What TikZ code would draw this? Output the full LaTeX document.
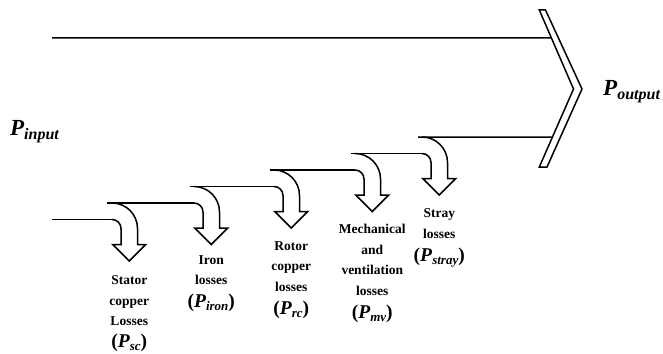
\documentclass[tikz,border=0pt]{standalone}
\usepackage{fontspec}
\setmainfont{Liberation Serif}
\usetikzlibrary{calc}
\newcommand{\Plbl}[1]{{\fontsize{19.5}{20.5}\selectfont(\textit{P}\raisebox{-3.4pt}{\fontsize{13}{13}\selectfont\itshape #1})}}
\newcommand{\Pbig}[1]{{\fontsize{23}{23}\selectfont\bfseries\itshape P\raisebox{-4pt}{\fontsize{16}{16}\selectfont #1}}}
\begin{document}
\begin{tikzpicture}[x=1pt,y=-1pt,
  flow/.style={line width=1.5pt, line join=miter},
  lbl/.style={font=\fontsize{13.5}{20.5}\selectfont\bfseries, align=center, inner sep=0pt, anchor=north},
  big/.style={inner sep=0pt, anchor=base west}]
\useasboundingbox (0,0) rectangle (663,353);

% chevron (output)
\coordinate (ch1) at (539.3,10);
\coordinate (ch2) at (545.5,10);
\coordinate (ch3) at (582,89);
\coordinate (ch4) at (547,167);
\coordinate (ch5) at (539.3,167);
\coordinate (ch6) at (573.5,89);
\coordinate (topend) at ($(ch1)!0.3544!(ch6)$);
\coordinate (lowend) at ($(ch6)!0.6154!(ch5)$);

% curved loss arrows
\foreach \n/\cx/\cy in {1/112/228.5, 2/194/212, 3/274/195.5, 4/355/179, 5/422/162.5} {
  \draw[flow] ({\cx},{\cy-25.5}) .. controls ({\cx+14.08},{\cy-25.5}) and ({\cx+25.5},{\cy-14.08}) .. ({\cx+25.5},{\cy})
     -- ({\cx+25.5},{\cy+16}) -- ({\cx+33.75},{\cy+16}) -- ({\cx+17.25},{\cy+32.5})
     -- ({\cx+0.75},{\cy+16}) -- ({\cx+9},{\cy+16}) -- ({\cx+9},{\cy})
     .. controls ({\cx+9},{\cy-4.97}) and ({\cx+4.97},{\cy-9}) .. ({\cx},{\cy-9});
  \coordinate (s\n) at ({\cx},{\cy-9});
  \coordinate (tip\n) at ({\cx+17.25},{\cy+32.5});
}

% horizontal flow lines
\coordinate (in0) at (52,219.5);
\coordinate (in1) at (107,203);
\coordinate (in2) at (190,186.5);
\coordinate (in3) at (270,170);
\coordinate (in4) at (351,153.5);
\coordinate (in5) at (418,137);
\coordinate (intop) at (52,38);
\draw[flow] (in0) -- (s1);
\draw[flow] (in1) -- (s2);
\draw[flow] (in2) -- (s3);
\draw[flow] (in3) -- (s4);
\draw[flow] (in4) -- (s5);
\draw[flow] (in5) -- (lowend);
\draw[flow] (intop) -- (topend);

\draw[flow, fill=white] (ch1) -- (ch2) -- (ch3) -- (ch4) -- (ch5) -- (ch6) -- cycle;

% labels
\node[big] (pin) at (10,135) {\Pbig{input}};
\node[big] (pout) at (603,95) {\Pbig{output}};

\node[lbl] (l1) at (129.25,275.4) {Stator\\copper\\Losses\\[1pt]\Plbl{sc}};
\node[lbl] (l2) at (211.25,255.4) {Iron\\losses\\[2pt]\Plbl{iron}};
\node[lbl] (l3) at (291.25,241.4) {Rotor\\copper\\losses\\[2.5pt]\Plbl{rc}};
\node[lbl] (l4) at (372.25,224.4) {Mechanical\\and\\ventilation\\losses\\[2.5pt]\Plbl{mv}};
\node[lbl] (l5) at (439.25,208.4) {Stray\\losses\\[3pt]\Plbl{stray}};
\end{tikzpicture}
\end{document}
